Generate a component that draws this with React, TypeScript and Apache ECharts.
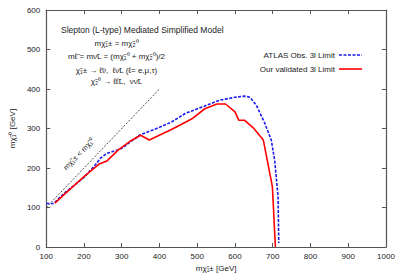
import React, { useEffect, useRef } from "react";
import * as echarts from "echarts";

const atlasX = [100, 119, 150, 200, 230, 245, 261, 287, 300, 347, 400, 433, 468, 520, 560, 600, 625, 640, 657, 679, 696, 705, 714, 716];
const atlasY = [110, 110, 138, 176, 208, 226, 237, 245, 250, 283, 303, 317, 338, 357, 372, 379, 382, 379, 358, 313, 271, 220, 128, 10];
const oursX = [123, 150, 200, 240, 261, 291, 321, 350, 373, 433, 485, 520, 552, 575, 600, 610, 625, 649, 675, 699, 707];
const oursY = [111, 135, 178, 210, 218, 246, 267, 283, 271, 298, 324, 350, 362, 362, 342, 321, 321, 301, 271, 153, 0];
const diagX = [100, 400];
const diagY = [100, 400];

const seriesNames = ["ATLAS Obs. 3l Limit", "Our validated 3l Limit"];
const xTicks = { min: 100, max: 1000, interval: 100 };
const yTicks = { min: 0, max: 600, interval: 100 };

const titleText = "Slepton (L-type) Mediated Simplified Model";
const formulaLines = [
  "mχ̃₁± = mχ̃₂⁰",
  "mℓ̃ = mν̃L = (mχ̃₁⁰ + mχ̃₂⁰)/2",
  "χ̃₁± → ℓ̃ν,  ℓν̃L (ℓ= e,μ,τ)",
  "χ̃₂⁰ → ℓℓ̃L,  νν̃L",
];
const diagLabel = "mχ̃₁± < mχ̃₁⁰";
const xName = "mχ̃₁± [GeV]";
const yName = "mχ̃₁⁰ [GeV]";

const FONT = "'Liberation Sans', Arial, sans-serif";
const BLUE = "#1a1aee";
const RED = "#ff0000";

function pairs(xs: number[], ys: number[]) {
  return xs.map((x, i) => [x, ys[i]]);
}

export default function App() {
  const ref = useRef<HTMLDivElement>(null);
  useEffect(() => {
    document.body.style.margin = "0";
    if (!ref.current) return;
    const chart = echarts.init(ref.current, null, { renderer: "svg" });
    const axisCommon = {
      type: "value" as const,
      axisLine: { show: true, onZero: false, lineStyle: { color: "#555", width: 1.2 } },
      axisTick: { show: true, inside: true, length: 4, lineStyle: { color: "#555" } },
      splitLine: { show: false },
    };
    const labelStyle = { color: "#222", fontSize: 8, fontFamily: FONT };
    const plain = (v: number) => String(v);
    chart.setOption({
      animation: false,
      backgroundColor: "#fff",
      grid: { left: 38, right: 14, top: 10, bottom: 33 },
      xAxis: [
        {
          ...axisCommon,
          ...xTicks,
          position: "bottom",
          axisLabel: { ...labelStyle, margin: 5, formatter: plain },
          name: xName,
          nameLocation: "middle",
          nameGap: 17,
          nameTextStyle: { ...labelStyle, fontSize: 8 },
        },
        { ...axisCommon, ...xTicks, position: "top", axisLabel: { show: false } },
      ],
      yAxis: [
        {
          ...axisCommon,
          ...yTicks,
          position: "left",
          axisLabel: { ...labelStyle, margin: 6, formatter: plain },
          name: yName,
          nameLocation: "middle",
          nameGap: 22,
          nameTextStyle: { ...labelStyle, fontSize: 8 },
        },
        { ...axisCommon, ...yTicks, position: "right", axisLabel: { show: false } },
      ],
      series: [
        {
          name: "diag",
          type: "line",
          data: pairs(diagX, diagY),
          symbol: "none",
          silent: true,
          lineStyle: { color: "#222", width: 0.8, type: [2, 1.5] },
        },
        {
          name: seriesNames[0],
          type: "line",
          data: pairs(atlasX, atlasY),
          symbol: "none",
          lineStyle: { color: BLUE, width: 1.6, type: [3, 1.5] },
        },
        {
          name: seriesNames[1],
          type: "line",
          data: pairs(oursX, oursY),
          symbol: "none",
          lineStyle: { color: RED, width: 1.6 },
        },
      ],
      graphic: [
        {
          type: "text",
          left: 61,
          top: 25,
          style: { text: titleText, fontSize: 8.5, fontFamily: FONT, fill: "#222" },
        },
        ...formulaLines.map((t, i) => ({
          type: "text",
          x: 116.5,
          y: [43, 56.5, 70, 81.5][i],
          style: {
            text: t,
            fontSize: 8,
            fontFamily: FONT,
            fill: "#222",
            align: "center",
            verticalAlign: "middle",
          },
        })),
        {
          type: "text",
          x: 79,
          y: 154,
          rotation: 0.8,
          style: {
            text: diagLabel,
            fontSize: 7.5,
            fontFamily: FONT,
            fill: "#222",
            align: "center",
            verticalAlign: "middle",
          },
        },
        ...seriesNames.map((n, i) => ({
          type: "text",
          x: 335,
          y: 55 + i * 14,
          style: {
            text: n,
            fontSize: 8,
            fontFamily: FONT,
            fill: "#222",
            align: "right",
            verticalAlign: "middle",
          },
        })),
        {
          type: "line",
          shape: { x1: 339, y1: 55, x2: 362, y2: 55 },
          style: { stroke: BLUE, lineWidth: 1.6, lineDash: [3, 1.5] },
        },
        {
          type: "line",
          shape: { x1: 339, y1: 69, x2: 362, y2: 69 },
          style: { stroke: RED, lineWidth: 1.6 },
        },
      ],
    });
    return () => chart.dispose();
  }, []);
  return <div ref={ref} style={{ width: 400, height: 280 }} />;
}
